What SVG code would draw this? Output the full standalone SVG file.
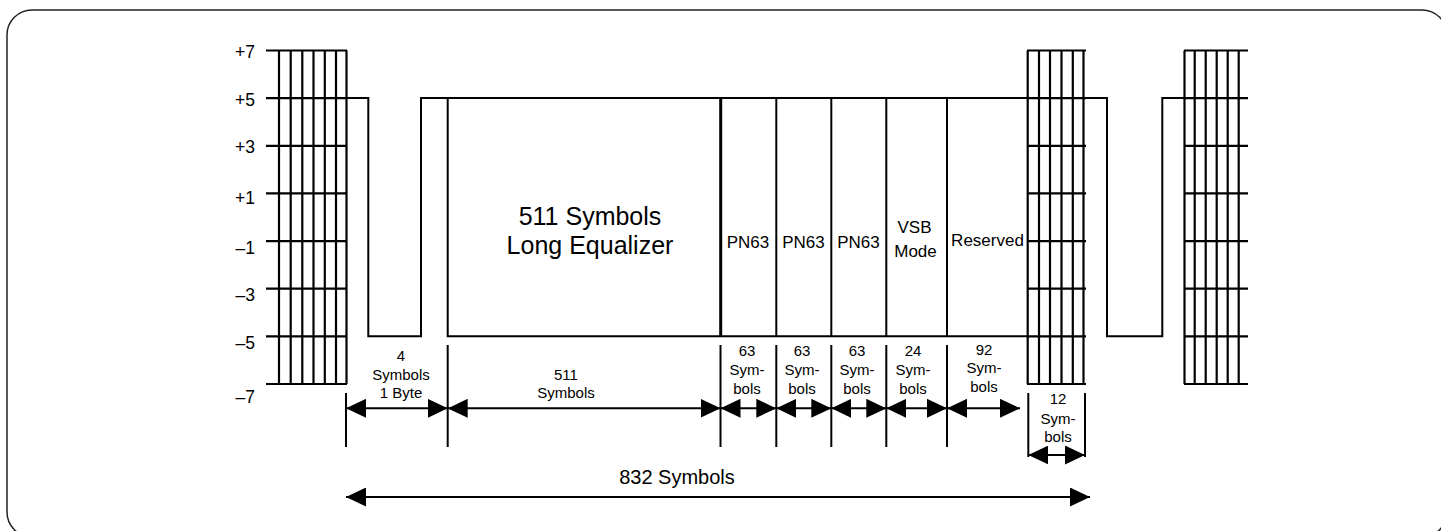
<svg xmlns="http://www.w3.org/2000/svg" width="1441" height="531" viewBox="0 0 1441 531">
<style>
  text { font-family: "Liberation Sans", Arial, sans-serif; fill: #000; }
  .ln { stroke: #000; stroke-width: 2; fill: none; }
  .thick { stroke: #000; stroke-width: 3; fill: none; }
  .grid line { stroke: #000; stroke-width: 2.2; }
  .ylab { font-size: 17.5px; text-anchor: end; }
  .big { font-size: 25px; text-anchor: middle; }
  .fld { font-size: 17px; text-anchor: middle; }
  .dim { font-size: 15px; text-anchor: middle; }
  .tot { font-size: 20px; text-anchor: middle; }
  .arr { stroke: #000; stroke-width: 2; fill: none; marker-start: url(#ah); marker-end: url(#ah); }
</style>
<defs>
  <marker id="ah" markerUnits="userSpaceOnUse" markerWidth="20" markerHeight="19" viewBox="0 0 20 19" refX="20" refY="9.5" orient="auto-start-reverse">
    <path d="M0,0 L20,9.5 L0,19 Z" fill="#000"/>
  </marker>
</defs>

<rect id="frame" x="7" y="10" width="1440" height="527" rx="25" ry="25" fill="none" stroke="#222" stroke-width="1.5"/>

<g id="y-axis-labels">
  <text class="ylab" x="255" y="57.5">+7</text>
  <text class="ylab" x="255" y="105.5">+5</text>
  <text class="ylab" x="255" y="152.5">+3</text>
  <text class="ylab" x="255" y="203.5">+1</text>
  <text class="ylab" x="255" y="253.5">–1</text>
  <text class="ylab" x="255" y="300.5">–3</text>
  <text class="ylab" x="255" y="348.5">–5</text>
  <text class="ylab" x="255" y="402.5">–7</text>
</g>

<g id="left-grid" class="grid">
  <line x1="266" y1="50.5" x2="347" y2="50.5"/>
  <line x1="266" y1="98.1" x2="347" y2="98.1"/>
  <line x1="266" y1="145.8" x2="347" y2="145.8"/>
  <line x1="266" y1="193.4" x2="347" y2="193.4"/>
  <line x1="266" y1="241.1" x2="347" y2="241.1"/>
  <line x1="266" y1="288.7" x2="347" y2="288.7"/>
  <line x1="266" y1="336.3" x2="347" y2="336.3"/>
  <line x1="266" y1="384" x2="347" y2="384"/>
  <line x1="279" y1="50.5" x2="279" y2="384"/>
  <line x1="290.7" y1="50.5" x2="290.7" y2="384"/>
  <line x1="302.3" y1="50.5" x2="302.3" y2="384"/>
  <line x1="313.5" y1="50.5" x2="313.5" y2="384"/>
  <line x1="324.8" y1="50.5" x2="324.8" y2="384"/>
  <line x1="336" y1="50.5" x2="336" y2="384"/>
  <line x1="346.5" y1="50.5" x2="346.5" y2="384"/>
</g>

<g id="middle-grid" class="grid">
  <line x1="1027" y1="50.5" x2="1086" y2="50.5"/>
  <line x1="1027" y1="98.1" x2="1086" y2="98.1"/>
  <line x1="1027" y1="145.8" x2="1086" y2="145.8"/>
  <line x1="1027" y1="193.4" x2="1086" y2="193.4"/>
  <line x1="1027" y1="241.1" x2="1086" y2="241.1"/>
  <line x1="1027" y1="288.7" x2="1086" y2="288.7"/>
  <line x1="1027" y1="336.3" x2="1086" y2="336.3"/>
  <line x1="1027" y1="384" x2="1086" y2="384"/>
  <line x1="1027.7" y1="50.5" x2="1027.7" y2="384"/>
  <line x1="1039" y1="50.5" x2="1039" y2="384"/>
  <line x1="1050" y1="50.5" x2="1050" y2="384"/>
  <line x1="1061.5" y1="50.5" x2="1061.5" y2="384"/>
  <line x1="1072.8" y1="50.5" x2="1072.8" y2="384"/>
  <line x1="1083.5" y1="50.5" x2="1083.5" y2="384"/>
</g>

<g id="right-grid" class="grid">
  <line x1="1184" y1="50.5" x2="1248" y2="50.5"/>
  <line x1="1184" y1="98.1" x2="1248" y2="98.1"/>
  <line x1="1184" y1="145.8" x2="1248" y2="145.8"/>
  <line x1="1184" y1="193.4" x2="1248" y2="193.4"/>
  <line x1="1184" y1="241.1" x2="1248" y2="241.1"/>
  <line x1="1184" y1="288.7" x2="1248" y2="288.7"/>
  <line x1="1184" y1="336.3" x2="1248" y2="336.3"/>
  <line x1="1184" y1="384" x2="1248" y2="384"/>
  <line x1="1184.5" y1="50.5" x2="1184.5" y2="384"/>
  <line x1="1194.7" y1="50.5" x2="1194.7" y2="384"/>
  <line x1="1205.7" y1="50.5" x2="1205.7" y2="384"/>
  <line x1="1216.7" y1="50.5" x2="1216.7" y2="384"/>
  <line x1="1227.7" y1="50.5" x2="1227.7" y2="384"/>
  <line x1="1238.7" y1="50.5" x2="1238.7" y2="384"/>
</g>

<g id="signal">
  <path class="ln" d="M346.5,98.1 H368.3 V336.3 H421 V98.1 H1027"/>
  <path class="ln" d="M1086,98.1 H1107 V336.3 H1162.3 V98.1 H1184"/>
</g>

<g id="segment-box">
  <path class="ln" d="M447.7,98.1 V336.3 H1027"/>
  <line class="thick" x1="720.7" y1="98.1" x2="720.7" y2="336.3"/>
  <line class="ln" x1="776.3" y1="98.1" x2="776.3" y2="336.3"/>
  <line class="ln" x1="831.3" y1="98.1" x2="831.3" y2="336.3"/>
  <line class="ln" x1="886.3" y1="98.1" x2="886.3" y2="336.3"/>
  <line class="ln" x1="947" y1="98.1" x2="947" y2="336.3"/>
</g>

<g id="node-long-equalizer">
  <text class="big" x="590" y="225">511 Symbols</text>
  <text class="big" x="590" y="254">Long Equalizer</text>
</g>
<g id="node-pn63-1"><text class="fld" x="748" y="248">PN63</text></g>
<g id="node-pn63-2"><text class="fld" x="803.5" y="248">PN63</text></g>
<g id="node-pn63-3"><text class="fld" x="858.5" y="248">PN63</text></g>
<g id="node-vsb-mode">
  <text class="fld" x="914.5" y="233">VSB</text>
  <text class="fld" x="915.5" y="257">Mode</text>
</g>
<g id="node-reserved"><text class="fld" x="987.5" y="246">Reserved</text></g>

<g id="dimension-ticks">
  <line class="ln" x1="346" y1="393" x2="346" y2="447"/>
  <line class="ln" x1="447.7" y1="345" x2="447.7" y2="447"/>
  <line class="ln" x1="720.5" y1="345" x2="720.5" y2="447"/>
  <line class="ln" x1="776.3" y1="345" x2="776.3" y2="447"/>
  <line class="ln" x1="831.3" y1="345" x2="831.3" y2="447"/>
  <line class="ln" x1="886.3" y1="345" x2="886.3" y2="447"/>
  <line class="ln" x1="947" y1="345" x2="947" y2="447"/>
  <line class="ln" x1="1028.3" y1="393" x2="1028.3" y2="457"/>
  <line class="ln" x1="1085" y1="393" x2="1085" y2="457"/>
</g>

<g id="connectors">
  <line class="arr" x1="346" y1="408.3" x2="447.7" y2="408.3"/>
  <line class="arr" x1="447.7" y1="408.3" x2="720.5" y2="408.3"/>
  <line class="arr" x1="720.5" y1="408.3" x2="776.3" y2="408.3"/>
  <line class="arr" x1="776.3" y1="408.3" x2="831.3" y2="408.3"/>
  <line class="arr" x1="831.3" y1="408.3" x2="886.3" y2="408.3"/>
  <line class="arr" x1="886.3" y1="408.3" x2="947" y2="408.3"/>
  <line class="arr" x1="947" y1="408.3" x2="1020" y2="408.3"/>
  <line class="arr" x1="1028.3" y1="455" x2="1085" y2="455"/>
  <line class="arr" x1="346" y1="497" x2="1090" y2="497"/>
</g>

<g id="dimension-labels">
  <g id="lbl-4"><text class="dim" x="401" y="361">4</text><text class="dim" x="401" y="380">Symbols</text><text class="dim" x="401" y="398">1 Byte</text></g>
  <g id="lbl-511"><text class="dim" x="566" y="380">511</text><text class="dim" x="566" y="398">Symbols</text></g>
  <g id="lbl-63a"><text class="dim" x="747" y="356">63</text><text class="dim" x="747" y="375">Sym-</text><text class="dim" x="747" y="394">bols</text></g>
  <g id="lbl-63b"><text class="dim" x="802" y="356">63</text><text class="dim" x="802" y="375">Sym-</text><text class="dim" x="802" y="394">bols</text></g>
  <g id="lbl-63c"><text class="dim" x="857" y="356">63</text><text class="dim" x="857" y="375">Sym-</text><text class="dim" x="857" y="394">bols</text></g>
  <g id="lbl-24"><text class="dim" x="913" y="356">24</text><text class="dim" x="913" y="375">Sym-</text><text class="dim" x="913" y="394">bols</text></g>
  <g id="lbl-92"><text class="dim" x="984" y="355">92</text><text class="dim" x="984" y="373">Sym-</text><text class="dim" x="984" y="391.5">bols</text></g>
  <g id="lbl-12"><text class="dim" x="1058" y="404">12</text><text class="dim" x="1058" y="424">Sym-</text><text class="dim" x="1058" y="442">bols</text></g>
  <g id="lbl-832"><text class="tot" x="677" y="484">832 Symbols</text></g>
</g>
</svg>
